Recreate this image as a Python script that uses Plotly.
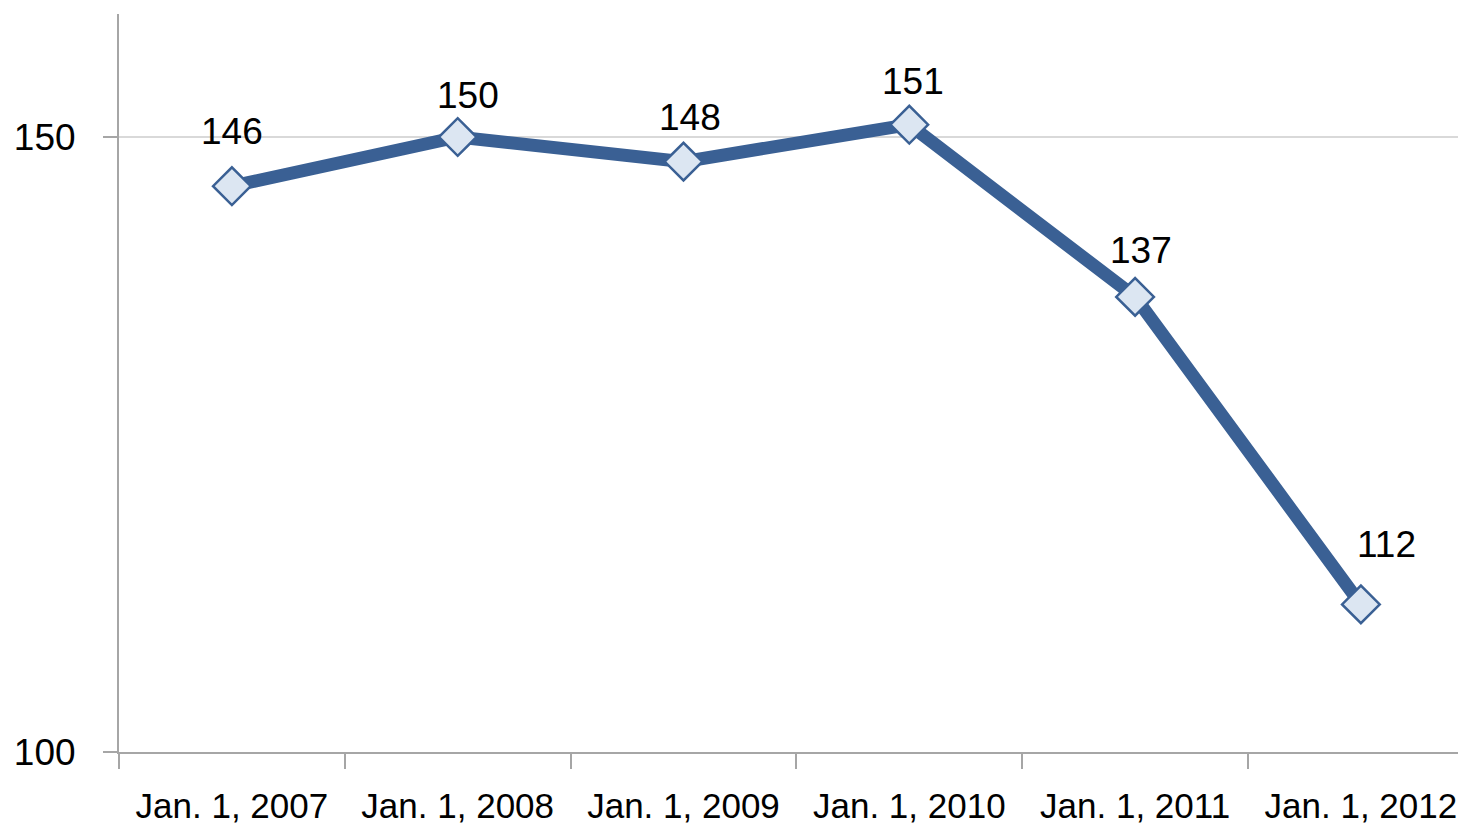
import plotly.graph_objects as go

categories = ["Jan. 1, 2007", "Jan. 1, 2008", "Jan. 1, 2009", "Jan. 1, 2010", "Jan. 1, 2011", "Jan. 1, 2012"]
values = [146, 150, 148, 151, 137, 112]
y_ticks = [100, 150]

# label offsets in pixels (x, y), matching the reference placement
label_dx = [0, 10, 6, 4, 6, 26]
label_dy = [55, 42, 44, 43, 46, 60]

LINE = "#3A6094"
FONT = "Liberation Sans"

fig = go.Figure()
fig.add_trace(go.Scatter(
    x=categories, y=values, mode="lines+markers",
    line=dict(color=LINE, width=13),
    marker=dict(symbol="diamond", size=29, color="#DCE6F2",
                line=dict(color=LINE, width=2.5)),
    hoverinfo="x+y", showlegend=False,
))

for c, v, dx, dy in zip(categories, values, label_dx, label_dy):
    fig.add_annotation(x=c, y=v, text=str(v), showarrow=False,
                       xshift=dx, yshift=dy,
                       font=dict(family=FONT, size=37, color="black"))

# page body has an 8px margin, so the figure is drawn 8px in from the top-left
fig.update_layout(
    width=1450, height=816,
    margin=dict(l=111, r=0, t=6, b=72),
    paper_bgcolor="white", plot_bgcolor="white",
    font=dict(family=FONT, size=37, color="black"),
)
fig.update_xaxes(
    type="category", range=[-0.5, 5.43],
    tickson="boundaries", ticks="outside", ticklen=15, tickwidth=2, tickcolor="#A6A6A6",
    ticklabelstandoff=22,
    showline=True, linecolor="#A6A6A6", linewidth=2,
    showgrid=False, zeroline=False,
    tickfont=dict(family=FONT, size=35, color="black"),
)
fig.update_yaxes(
    range=[100, 160], tickvals=y_ticks, ticktext=[str(t) for t in y_ticks],
    ticks="outside", ticklen=14, tickwidth=2, tickcolor="#A6A6A6",
    ticklabelstandoff=20,
    showline=True, linecolor="#A6A6A6", linewidth=2,
    showgrid=True, gridcolor="#D9D9D9", gridwidth=2, zeroline=False,
    tickfont=dict(family=FONT, size=37, color="black"),
)

fig.write_html("out.html")
